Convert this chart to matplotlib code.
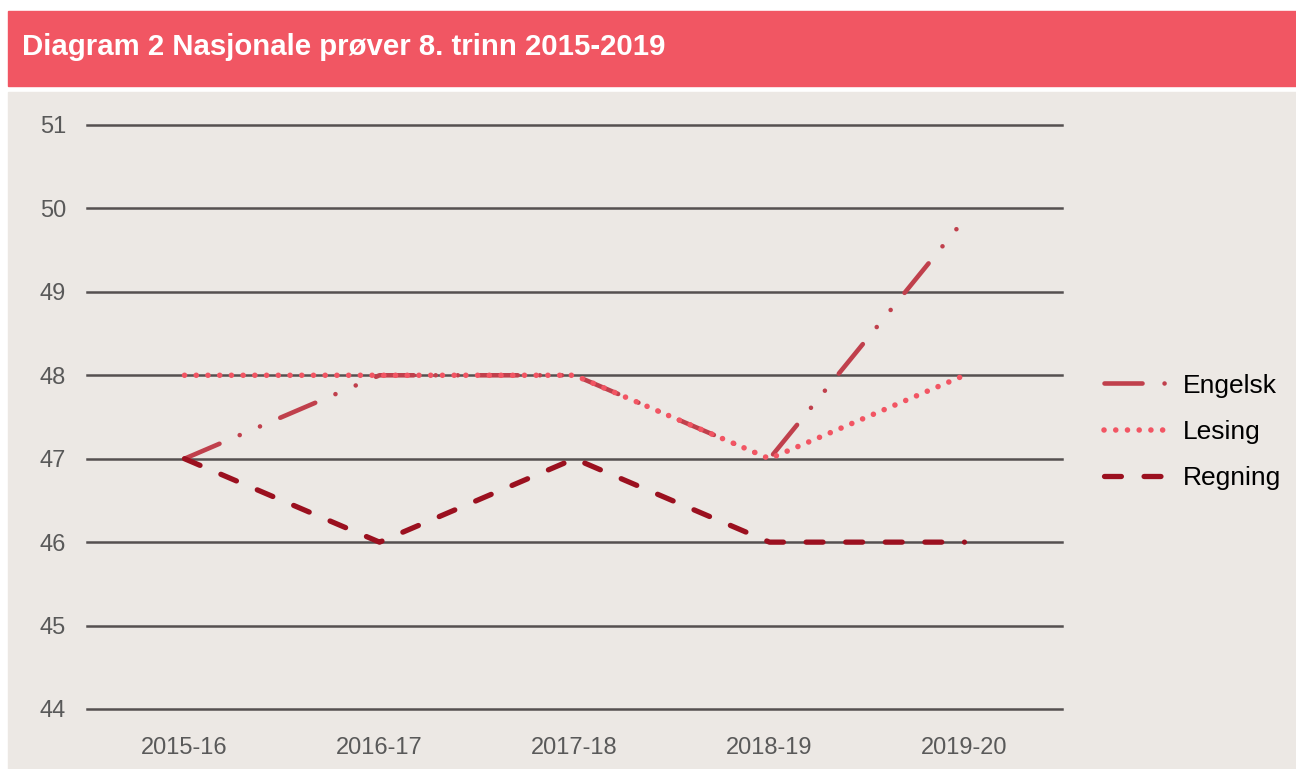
import matplotlib.pyplot as plt
from matplotlib.patches import Rectangle

plt.rcParams['font.family'] = ['Liberation Sans', 'DejaVu Sans']

years = ['2015-16', '2016-17', '2017-18', '2018-19', '2019-20']
engelsk = [47, 48, 48, 47, 49.87]
lesing = [48, 48, 48, 47, 48]
regning = [47, 46, 47, 46, 46]
yticks = [44, 45, 46, 47, 48, 49, 50, 51]

W, H = 1296, 769
fig = plt.figure(figsize=(W / 100, H / 100), dpi=100)
fig.patch.set_facecolor('white')

# header band and plot background
fig.patches.append(Rectangle((8 / W, 1 - 86 / H), 1 - 8 / W, 75 / H,
                             transform=fig.transFigure, color='#F15663', zorder=-2))
fig.patches.append(Rectangle((8 / W, 0), 1 - 8 / W, 1 - 92 / H,
                             transform=fig.transFigure, color='#ECE8E4', zorder=-2))
fig.text(22 / W, 1 - 47 / H, 'Diagram 2 Nasjonale prøver 8. trinn 2015-2019',
         color='white', fontsize=21.2, fontweight='bold', va='center', ha='left')

ax = fig.add_axes([87 / W, 60 / H, (1062 - 87) / W, (709 - 125) / H])
ax.set_zorder(1)
ax.set_facecolor('none')
x = range(len(years))

ax.plot(x, engelsk, color='#C0404C', lw=3.3, label='Engelsk',
        linestyle=(0, (8.3, 4.8, 0.01, 4.8, 0.01, 4.8)),
        dash_capstyle='round', zorder=3)
ax.plot(x, lesing, color='#F25563', lw=4, label='Lesing',
        linestyle=(0, (0.01, 2.1)), dash_capstyle='round', zorder=4)
ax.plot(x, regning, color='#9B101F', lw=3.8, label='Regning',
        linestyle=(0, (3.2, 4.3)), dash_capstyle='round', zorder=5)

ax.set_xlim(-0.5, len(years) - 0.5)
ax.set_ylim(44, 51)
ax.set_yticks(yticks)
ax.set_xticks(list(x))
ax.set_xticklabels(years)
ax.grid(axis='y', color='#555050', lw=1.8, zorder=1)
for g in ax.get_ygridlines():
    g.set_clip_on(False)
ax.set_axisbelow(True)
for s in ax.spines.values():
    s.set_visible(False)
ax.tick_params(length=0, labelsize=17, colors='#595959')
ax.tick_params(axis='y', pad=15)
ax.tick_params(axis='x', pad=20)

leg = ax.legend(loc='center left', bbox_to_anchor=(1080 / W, 1 - 432 / H),
                bbox_transform=fig.transFigure, frameon=False, fontsize=19,
                handlelength=2.5, handletextpad=0.5, labelspacing=0.85)

fig.savefig('out.png', dpi=100)
